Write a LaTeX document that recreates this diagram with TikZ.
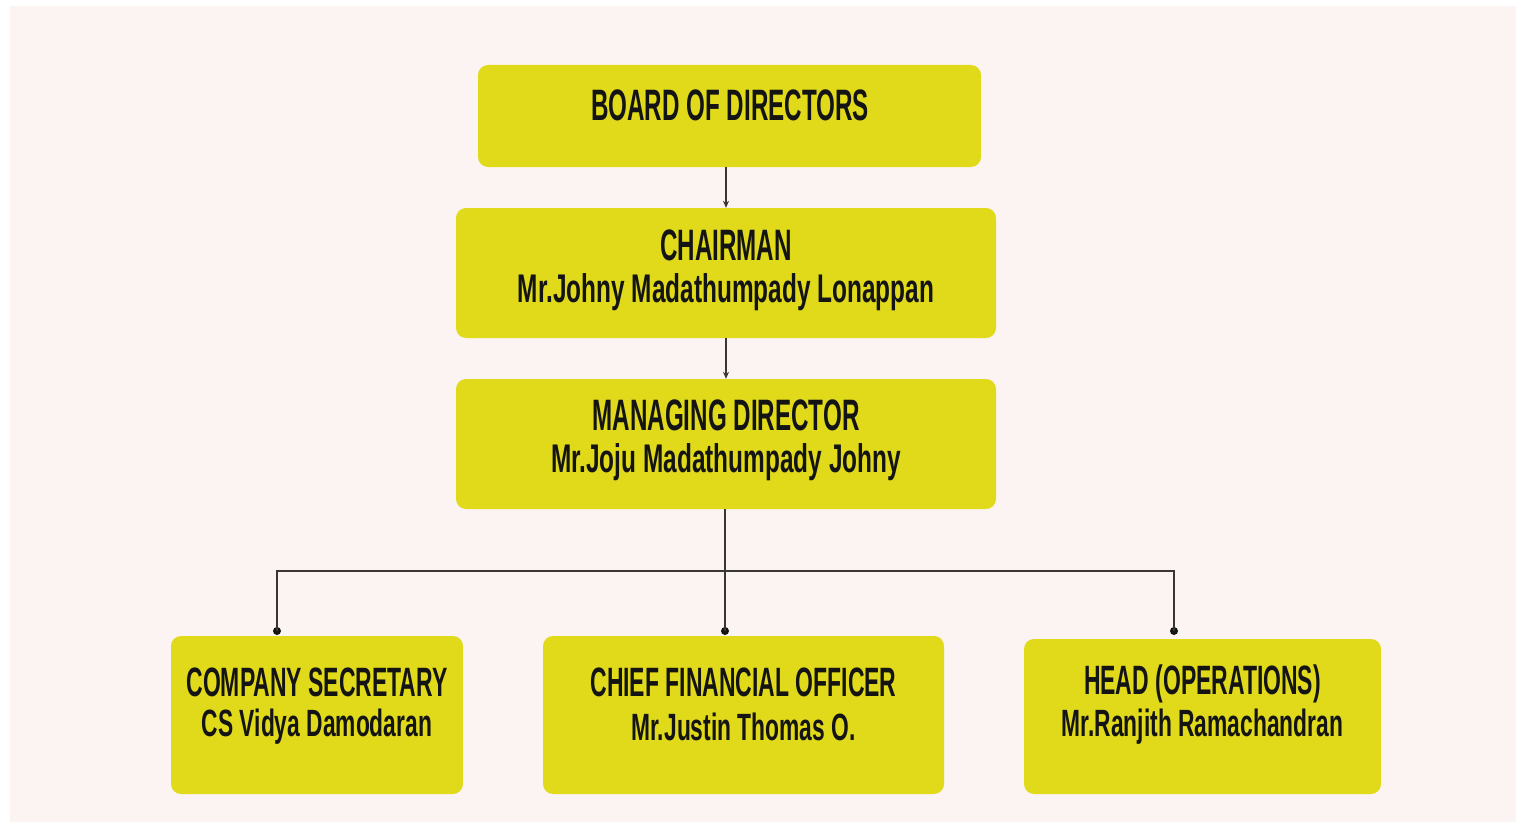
\documentclass[tikz,border=0pt]{standalone}
\usepackage{fontspec}
\usetikzlibrary{arrows.meta}
\newfontfamily\ttlfont{Liberation Sans}[UprightFont=* Bold, FakeStretch=0.55]
\newfontfamily\ttlsmfont{Liberation Sans}[UprightFont=* Bold, FakeStretch=0.56]
\newfontfamily\nmfont{Liberation Sans}[UprightFont=* Bold, FakeStretch=0.61]
\newfontfamily\nmsmfont{Liberation Sans}[UprightFont=* Bold, FakeStretch=0.6]
\definecolor{bgpink}{HTML}{FCF4F2}
\definecolor{boxyel}{HTML}{E0DA1B}
\definecolor{linegray}{HTML}{3A3636}
\definecolor{txt}{HTML}{141414}
\tikzset{
  box/.style={fill=boxyel, rounded corners=10pt, inner sep=0pt},
  ttl/.style={text=txt, inner sep=0pt, font=\ttlfont\fontsize{44}{44}\selectfont},
  ttlsm/.style={text=txt, inner sep=0pt, font=\ttlsmfont\fontsize{41}{41}\selectfont},
  nm/.style={text=txt, inner sep=0pt, font=\nmfont\fontsize{40}{40}\selectfont},
  nmsm/.style={text=txt, inner sep=0pt, font=\nmsmfont\fontsize{38}{38}\selectfont},
  conn/.style={draw=linegray, line width=1.8pt},
  arr/.style={draw=linegray, line width=1.3pt, -{Stealth[length=7pt,width=6pt]}},
  dot/.style={circle, fill=txt, inner sep=0pt, minimum size=8pt}
}
\begin{document}
\begin{tikzpicture}[x=1pt,y=-1pt]
\useasboundingbox (0,0) rectangle (1517,824);
\fill[white] (0,0) rectangle (1517,824);
\fill[bgpink] (10,6) rectangle (1516,822);
% boxes
\node[box, minimum width=503pt, minimum height=102pt] (board) at (729.5,116) {};
\node[box, minimum width=540pt, minimum height=130pt] (chair) at (726,273) {};
\node[box, minimum width=540pt, minimum height=130pt] (md) at (726,444) {};
\node[box, minimum width=292pt, minimum height=158pt] (cs) at (317,715) {};
\node[box, minimum width=401pt, minimum height=158pt] (cfo) at (743.5,715) {};
\node[box, minimum width=357pt, minimum height=155pt] (head) at (1202.5,716.5) {};
% texts
\node[ttl] (tboard) at (730,105) {BOARD OF DIRECTORS};
\node[ttl] (tchair) at (726,245) {CHAIRMAN};
\node[nm] (nchair) at (726,292) {Mr.Johny Madathumpady Lonappan};
\node[ttl] (tmd) at (726,415) {MANAGING DIRECTOR};
\node[nm] (nmd) at (726,462) {Mr.Joju Madathumpady Johny};
\node[ttlsm] (tcs) at (317,682) {COMPANY SECRETARY};
\node[nmsm] (ncs) at (317,727) {CS Vidya Damodaran};
\node[ttlsm] (tcfo) at (743.5,682) {CHIEF FINANCIAL OFFICER};
\node[nmsm] (ncfo) at (743.5,727) {Mr.Justin Thomas O.};
\node[ttlsm] (thead) at (1202.5,684) {HEAD (OPERATIONS)};
\node[nmsm] (nhead) at (1202.5,727) {Mr.Ranjith Ramachandran};
% connectors
\draw[arr] (chair.north |- board.south) -- (chair.north);
\draw[arr] (chair.south) -- (md.north);
\coordinate (j) at (725,571);
\node[dot] (d1) at (277,631) {};
\node[dot] (d2) at (725,631) {};
\node[dot] (d3) at (1174,631) {};
\draw[conn] (md.south -| d2) -- (d2.center);
\draw[conn] (d1.center) |- (j) -| (d3.center);
\end{tikzpicture}
\end{document}
